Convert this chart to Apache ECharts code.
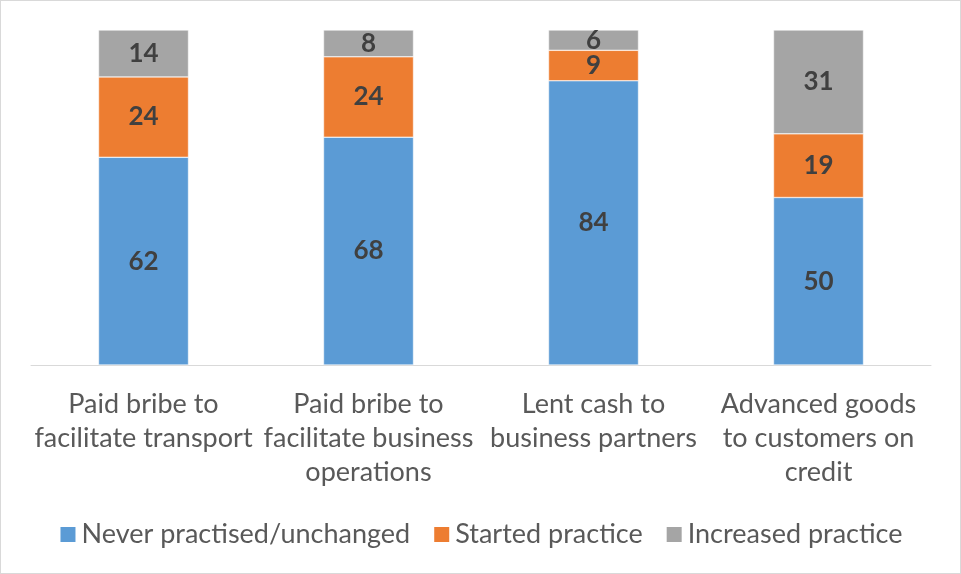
<!DOCTYPE html>
<html>
<head>
<meta charset="utf-8">
<script src="https://cdn.jsdelivr.net/npm/echarts@6/dist/echarts.min.js"></script>
<style>
  html, body { margin: 0; padding: 0; background: #fff; }
  #main { width: 959px; height: 572px; border: 1px solid #d9d9d9; }
</style>
</head>
<body>
<div id="main"></div>
<script>
var categories = [
  'Paid bribe to\nfacilitate transport',
  'Paid bribe to\nfacilitate business\noperations',
  'Lent cash to\nbusiness partners',
  'Advanced goods\nto customers on\ncredit'
];
var neverValues = [62, 68, 84, 50];
var startedValues = [24, 24, 9, 19];
var increasedValues = [14, 8, 6, 31];

var chart = echarts.init(document.getElementById('main'));

// 100% stacked: share of each bar's total
var totals = categories.map(function(c, i) {
  return neverValues[i] + startedValues[i] + increasedValues[i];
});
function toShare(arr) {
  return arr.map(function(v, i) {
    return { value: v / totals[i] * 100, raw: v };
  });
}

var labelStyle = {
  show: true,
  position: 'inside',
  color: '#404040',
  fontWeight: 'bold',
  fontSize: 26,
  fontFamily: 'Lato',
  formatter: function(p) { return p.data.raw; }
};

function makeSeries(name, arr, color) {
  return {
    name: name,
    type: 'bar',
    stack: 'total',
    barWidth: 90,
    data: toShare(arr),
    itemStyle: { color: color, borderColor: '#fff', borderWidth: 0.5 },
    label: labelStyle
  };
}

chart.setOption({
  animation: false,
  grid: { left: 30, right: 29, top: 29, bottom: 208 },
  legend: {
    bottom: 20,
    left: 'center',
    itemWidth: 17,
    itemHeight: 17,
    itemGap: 22,
    icon: 'rect',
    textStyle: { color: '#595959', fontSize: 27, fontFamily: 'Lato' },
    data: ['Never practised/unchanged', 'Started practice', 'Increased practice']
  },
  xAxis: {
    type: 'category',
    data: categories,
    axisLine: { lineStyle: { color: '#d9d9d9', width: 1 } },
    axisTick: { show: false },
    axisLabel: {
      interval: 0,
      margin: 22,
      color: '#595959',
      fontSize: 27,
      lineHeight: 34,
      fontFamily: 'Lato'
    }
  },
  yAxis: {
    type: 'value',
    min: 0,
    max: 100,
    show: false,
    splitLine: { show: false }
  },
  series: [
    makeSeries('Never practised/unchanged', neverValues, '#5B9BD5'),
    makeSeries('Started practice', startedValues, '#ED7D31'),
    makeSeries('Increased practice', increasedValues, '#A5A5A5')
  ]
});
</script>
</body>
</html>
